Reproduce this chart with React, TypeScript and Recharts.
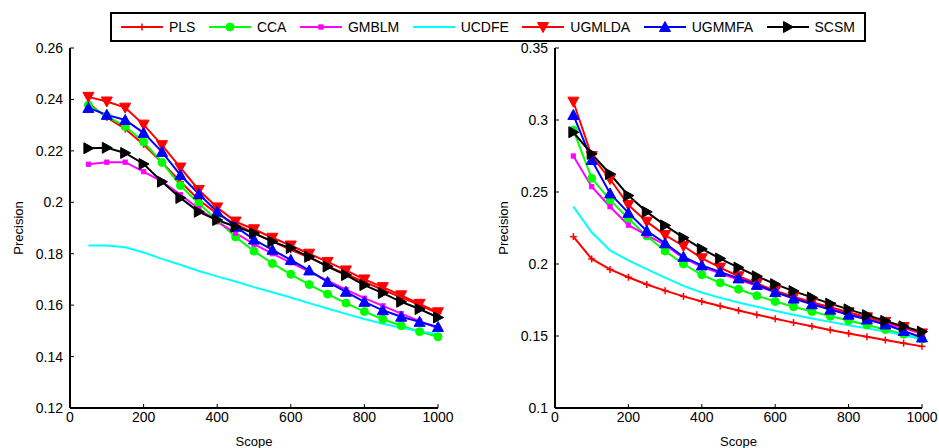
import React from 'react';
import { LineChart, Line, XAxis, YAxis } from 'recharts';

// ---------- data ----------
const scope = [50, 100, 150, 200, 250, 300, 350, 400, 450, 500, 550, 600, 650, 700, 750, 800, 850, 900, 950, 1000];

const seriesNames = ['PLS', 'CCA', 'GMBLM', 'UCDFE', 'UGMLDA', 'UGMMFA', 'SCSM'];
const seriesColors = ['#ff0000', '#00ff00', '#ff00ff', '#00ffff', '#ff0000', '#0000ff', '#000000'];
const seriesMarkers = ['plus', 'circle', 'square', 'none', 'down', 'up', 'right'];

const leftPLS = [0.2385, 0.2330, 0.2285, 0.2225, 0.2155, 0.2080, 0.2010, 0.1955, 0.1915, 0.1880, 0.1848, 0.1815, 0.1785, 0.1752, 0.1720, 0.1690, 0.1660, 0.1630, 0.1600, 0.1568];
const leftCCA = [0.2378, 0.2335, 0.2295, 0.2235, 0.2155, 0.2065, 0.1995, 0.1930, 0.1865, 0.1810, 0.1762, 0.1720, 0.1680, 0.1643, 0.1608, 0.1575, 0.1545, 0.1520, 0.1497, 0.1477];
const leftGMBLM = [0.2148, 0.2156, 0.2156, 0.2119, 0.2080, 0.2030, 0.1975, 0.1925, 0.1880, 0.1837, 0.1800, 0.1765, 0.1730, 0.1695, 0.1660, 0.1627, 0.1597, 0.1567, 0.1538, 0.1510];
const leftUCDFE = [0.1832, 0.1832, 0.1825, 0.1805, 0.1780, 0.1757, 0.1733, 0.1712, 0.1692, 0.1670, 0.1650, 0.1630, 0.1608, 0.1587, 0.1566, 0.1546, 0.1528, 0.1512, 0.1498, 0.1488];
const leftUGMLDA = [0.2410, 0.2392, 0.2368, 0.2302, 0.2222, 0.2135, 0.2048, 0.1980, 0.1925, 0.1895, 0.1862, 0.1832, 0.1800, 0.1768, 0.1735, 0.1700, 0.1670, 0.1638, 0.1605, 0.1572];
const leftUGMMFA = [0.2367, 0.2340, 0.2320, 0.2270, 0.2196, 0.2106, 0.2032, 0.1963, 0.1905, 0.1855, 0.1815, 0.1776, 0.1735, 0.1690, 0.1652, 0.1613, 0.1580, 0.1555, 0.1535, 0.1515];
const leftSCSM = [0.2210, 0.2212, 0.2192, 0.2149, 0.2080, 0.2017, 0.1963, 0.1931, 0.1905, 0.1880, 0.1847, 0.1822, 0.1788, 0.1750, 0.1717, 0.1678, 0.1647, 0.1613, 0.1585, 0.1552];

const rightPLS = [0.2190, 0.2035, 0.1962, 0.1908, 0.1858, 0.1815, 0.1775, 0.1740, 0.1708, 0.1677, 0.1648, 0.1620, 0.1593, 0.1567, 0.1542, 0.1518, 0.1495, 0.1472, 0.1450, 0.1428];
const rightCCA = [0.2930, 0.2595, 0.2445, 0.2315, 0.2195, 0.2090, 0.2000, 0.1925, 0.1870, 0.1825, 0.1780, 0.1740, 0.1703, 0.1670, 0.1638, 0.1607, 0.1577, 0.1545, 0.1512, 0.1478];
const rightGMBLM = [0.2750, 0.2537, 0.2398, 0.2270, 0.2200, 0.2132, 0.2040, 0.1980, 0.1935, 0.1890, 0.1848, 0.1805, 0.1765, 0.1728, 0.1690, 0.1655, 0.1622, 0.1588, 0.1555, 0.1515];
const rightUCDFE = [0.2398, 0.2220, 0.2095, 0.2025, 0.1965, 0.1905, 0.1848, 0.1802, 0.1765, 0.1732, 0.1703, 0.1675, 0.1648, 0.1622, 0.1598, 0.1575, 0.1553, 0.1532, 0.1505, 0.1478];
const rightUGMLDA = [0.3127, 0.2750, 0.2590, 0.2410, 0.2294, 0.2201, 0.2125, 0.2040, 0.1975, 0.1915, 0.1865, 0.1815, 0.1773, 0.1735, 0.1700, 0.1665, 0.1630, 0.1598, 0.1562, 0.1518];
const rightUGMMFA = [0.3035, 0.2722, 0.2490, 0.2355, 0.2230, 0.2144, 0.2050, 0.1990, 0.1945, 0.1900, 0.1855, 0.1805, 0.1760, 0.1720, 0.1683, 0.1648, 0.1615, 0.1580, 0.1535, 0.1490];
const rightSCSM = [0.2915, 0.2765, 0.2625, 0.2475, 0.2362, 0.2268, 0.2183, 0.2105, 0.2038, 0.1975, 0.1915, 0.1860, 0.1812, 0.1768, 0.1725, 0.1685, 0.1645, 0.1605, 0.1567, 0.1530];

const xTicks = [0, 200, 400, 600, 800, 1000];
const leftYTicks = [0.12, 0.14, 0.16, 0.18, 0.2, 0.22, 0.24, 0.26];
const rightYTicks = [0.1, 0.15, 0.2, 0.25, 0.3, 0.35];
const leftYLabels = ['0.12', '0.14', '0.16', '0.18', '0.2', '0.22', '0.24', '0.26'];
const rightYLabels = ['0.1', '0.15', '0.2', '0.25', '0.3', '0.35'];

const leftSeries = [leftPLS, leftCCA, leftGMBLM, leftUCDFE, leftUGMLDA, leftUGMMFA, leftSCSM];
const rightSeries = [rightPLS, rightCCA, rightGMBLM, rightUCDFE, rightUGMLDA, rightUGMMFA, rightSCSM];

const buildRows = (series: number[][]) =>
  scope.map((x, i) => {
    const row: Record<string, number> = { x };
    seriesNames.forEach((n, s) => {
      row[n] = series[s][i];
    });
    return row;
  });

const leftRows = buildRows(leftSeries);
const rightRows = buildRows(rightSeries);

// ---------- markers ----------
const FONT = '"Liberation Sans", Arial, Helvetica, sans-serif';

function Marker({ kind, cx, cy, color }: { kind: string; cx: number; cy: number; color: string }) {
  switch (kind) {
    case 'plus':
      return (
        <g>
          <line x1={cx - 3.5} y1={cy} x2={cx + 3.5} y2={cy} stroke={color} strokeWidth={1.5} />
          <line x1={cx} y1={cy - 3.5} x2={cx} y2={cy + 3.5} stroke={color} strokeWidth={1.5} />
        </g>
      );
    case 'circle':
      return <circle cx={cx} cy={cy} r={4} fill={color} stroke={color} strokeWidth={1} />;
    case 'square':
      return <rect x={cx - 2.2} y={cy - 2.2} width={4.4} height={4.4} fill={color} stroke={color} strokeWidth={0.8} />;
    case 'down':
      return <polygon points={`${cx - 5.5},${cy - 4.5} ${cx + 5.5},${cy - 4.5} ${cx},${cy + 5.5}`} fill={color} stroke={color} strokeWidth={1} />;
    case 'up':
      return <polygon points={`${cx - 5.5},${cy + 4.5} ${cx + 5.5},${cy + 4.5} ${cx},${cy - 5.5}`} fill={color} stroke={color} strokeWidth={1} />;
    case 'right':
      return <polygon points={`${cx - 4.5},${cy - 5.5} ${cx - 4.5},${cy + 5.5} ${cx + 5.5},${cy}`} fill={color} stroke={color} strokeWidth={1} />;
    default:
      return null;
  }
}

const makeDot = (kind: string, color: string) => (props: any) => {
  const { cx, cy, index } = props;
  if (kind === 'none' || cx == null || cy == null) return <g key={`n${index}`} />;
  return (
    <g key={`d${index}`}>
      <Marker kind={kind} cx={cx} cy={cy} color={color} />
    </g>
  );
};

const EmptyTick = () => <g />;

// ---------- panel ----------
function Panel({
  rows,
  width,
  yAxisWidth,
  marginRight,
  yDomain,
  yTicks,
  yLabels,
}: {
  rows: Record<string, number>[];
  width: number;
  yAxisWidth: number;
  marginRight: number;
  yDomain: [number, number];
  yTicks: number[];
  yLabels: string[];
}) {
  const tickStyle = { fontSize: 14, fill: '#000', fontFamily: FONT };
  return (
    <LineChart
      width={width}
      height={448}
      data={rows}
      margin={{ top: 48, right: marginRight, bottom: 0, left: 0 }}
    >
      <XAxis
        xAxisId="b"
        dataKey="x"
        type="number"
        domain={[0, 1000]}
        ticks={xTicks}
        height={40}
        tickSize={-4}
        tickMargin={8}
        tick={tickStyle}
        stroke="#000"
        axisLine={{ stroke: '#000', strokeWidth: 2 }}
        tickLine={{ stroke: '#000', strokeWidth: 1 }}
        label={{ value: 'Scope', position: 'insideBottom', offset: 2, fontSize: 13, fill: '#000', fontFamily: FONT }}
      />
      <XAxis
        xAxisId="t"
        orientation="top"
        dataKey="x"
        type="number"
        domain={[0, 1000]}
        ticks={xTicks}
        height={0}
        tickSize={-4}
        tick={EmptyTick}
        axisLine={{ stroke: '#000', strokeWidth: 1.5 }}
        tickLine={{ stroke: '#000', strokeWidth: 1 }}
      />
      <YAxis
        yAxisId="l"
        type="number"
        domain={yDomain}
        ticks={yTicks}
        width={yAxisWidth}
        tickSize={-4}
        tickMargin={11}
        tick={tickStyle}
        tickFormatter={(v: number) => yLabels[yTicks.indexOf(v)] ?? String(v)}
        axisLine={{ stroke: '#000', strokeWidth: 2 }}
        tickLine={{ stroke: '#000', strokeWidth: 1 }}
        label={{
          value: 'Precision',
          angle: -90,
          position: 'insideLeft',
          offset: yAxisWidth - 52,
          fontSize: 13,
          fill: '#000',
          fontFamily: FONT,
          style: { textAnchor: 'middle' },
        }}
      />
      <YAxis
        yAxisId="r"
        orientation="right"
        type="number"
        domain={yDomain}
        ticks={yTicks}
        width={0}
        tickSize={-4}
        tick={EmptyTick}
        axisLine={{ stroke: '#000', strokeWidth: 1.5 }}
        tickLine={{ stroke: '#000', strokeWidth: 1 }}
      />
      {seriesNames.map((name, s) => (
        <Line
          key={name}
          xAxisId="b"
          yAxisId="l"
          type="linear"
          dataKey={name}
          stroke={seriesColors[s]}
          strokeWidth={2}
          dot={makeDot(seriesMarkers[s], seriesColors[s])}
          activeDot={false}
          isAnimationActive={false}
        />
      ))}
    </LineChart>
  );
}

// ---------- legend ----------
function LegendBox() {
  return (
    <div
      style={{
        position: 'absolute',
        left: 110,
        top: 12,
        height: 30,
        width: 756,
        boxSizing: 'border-box',
        border: '2px solid #000',
        background: '#fff',
        display: 'flex',
        alignItems: 'center',
        justifyContent: 'space-between',
        paddingLeft: 9,
        paddingRight: 9,
        fontFamily: FONT,
        fontSize: 14,
        color: '#000',
      }}
    >
      {seriesNames.map((name, s) => (
        <div key={name} style={{ display: 'flex', alignItems: 'center' }}>
          <svg width={42} height={14}>
            <line x1={0} y1={7} x2={42} y2={7} stroke={seriesColors[s]} strokeWidth={2} />
            <Marker kind={seriesMarkers[s]} cx={21} cy={7} color={seriesColors[s]} />
          </svg>
          <span style={{ marginLeft: 6 }}>{name}</span>
        </div>
      ))}
    </div>
  );
}

export default function App() {
  return (
    <div style={{ position: 'absolute', left: 0, top: 0, width: 939, height: 448, background: '#fff', overflow: 'hidden' }}>
      <div style={{ position: 'absolute', left: 0, top: 0 }}>
        <Panel rows={leftRows} width={470} yAxisWidth={70} marginRight={32} yDomain={[0.12, 0.26]} yTicks={leftYTicks} yLabels={leftYLabels} />
      </div>
      <div style={{ position: 'absolute', left: 470, top: 0 }}>
        <Panel rows={rightRows} width={469} yAxisWidth={85} marginRight={17} yDomain={[0.1, 0.35]} yTicks={rightYTicks} yLabels={rightYLabels} />
      </div>
      <LegendBox />
    </div>
  );
}
